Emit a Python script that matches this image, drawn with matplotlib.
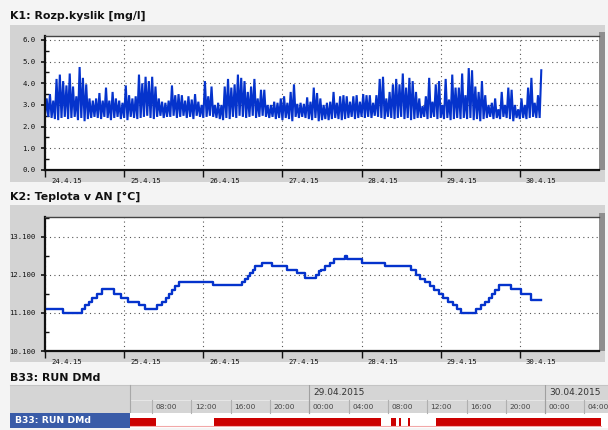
import numpy as np
import matplotlib
matplotlib.use("Agg")
import matplotlib.pyplot as plt
from matplotlib.patches import Rectangle
from matplotlib.transforms import ScaledTranslation

# ---------------- data ----------------
# K1: dissolved oxygen, hourly spike maxima and band minima (hours from 24.4.15 00:00)
o2_peak = [3.3,3.5,3.2,4.2,4.4,4.1,3.9,4.45,3.85,3.4,4.75,4.25,3.95,3.3,3.2,3.3,3.55,3.2,3.8,3.2,
           3.6,3.3,3.2,3.1,3.9,3.45,3.3,3.4,4.4,4.0,4.3,4.1,4.3,3.85,3.3,3.15,3.1,3.2,
           3.9,3.45,3.5,3.45,3.2,3.4,3.25,3.5,3.15,3.0,4.1,3.4,3.85,3.0,3.1,3.0,3.85,4.2,3.8,3.95,
           4.4,4.25,4.1,3.6,3.85,4.2,3.3,3.7,3.7,3.0,3.0,3.15,3.1,3.3,3.4,3.1,3.6,3.95,
           3.05,3.1,3.05,3.35,3.15,3.8,3.55,3.3,3.0,3.1,3.15,3.6,3.1,3.4,3.45,3.4,3.15,3.4,3.45,3.15,
           3.5,3.45,3.45,3.1,3.45,4.2,4.3,3.3,3.6,3.95,4.2,3.95,4.45,3.8,4.25,4.1,3.6,3.3,
           2.95,3.4,4.25,3.15,3.95,4.1,3.0,4.2,3.25,4.4,3.8,3.8,4.45,3.45,4.7,4.6,3.85,3.6,4.1,3.45,
           3.0,3.1,3.3,2.8,3.6,3.0,3.8,3.7,3.0,2.8,3.3,3.0,3.8,4.25,3.1,3.45,4.6]
o2_low = [2.5,2.45,2.4,2.35,2.3,2.4,2.45,2.35,2.4,2.45,2.3,2.4,2.25,2.35,2.4,2.45,2.4,2.35,2.45,2.4,
          2.3,2.4,2.45,2.35,2.4,2.3,2.45,2.4,2.35,2.4,2.45,2.5,2.4,2.35,2.45,2.5,2.4,2.45,
          2.45,2.5,2.4,2.45,2.5,2.4,2.45,2.35,2.5,2.45,2.4,2.45,2.5,2.45,2.4,2.35,2.3,2.4,2.35,2.45,
          2.4,2.5,2.45,2.4,2.45,2.5,2.4,2.45,2.5,2.45,2.4,2.45,2.35,2.4,2.3,2.4,2.35,2.25,
          2.45,2.4,2.45,2.4,2.35,2.3,2.4,2.25,2.3,2.35,2.3,2.35,2.4,2.35,2.3,2.35,2.4,2.45,2.35,2.4,
          2.45,2.4,2.45,2.4,2.5,2.45,2.4,2.35,2.45,2.4,2.35,2.4,2.45,2.35,2.4,2.3,2.35,2.4,
          2.4,2.45,2.35,2.4,2.45,2.35,2.4,2.35,2.4,2.3,2.35,2.4,2.35,2.4,2.35,2.4,2.3,2.35,2.25,2.35,
          2.4,2.45,2.35,2.4,2.35,2.45,2.4,2.35,2.25,2.4,2.35,2.4,2.35,2.4,2.45,2.4,2.4]

# K2: temperature steps (hour from 24.4.15 00:00, value)
temp_t = [0, 5.4, 11.1, 12.2, 13.2, 14.2, 15.7, 17.2, 20.8, 23.0, 25.3, 28.4, 30.4, 33.9, 35.5,
          36.7, 37.5, 38.5, 39.5, 40.5, 51.0, 59.8, 60.8, 61.5, 62.3, 63.1, 63.8, 65.7, 68.9,
          73.3, 76.5, 78.8, 82.1, 83.1, 83.8, 84.8, 86.4, 87.6, 90.9, 91.7, 96.0, 103.0,
          111.0, 112.4, 113.8, 115.2, 116.6, 118.0, 119.4, 120.8, 122.2, 123.6, 125.0, 126.2, 130.7,
          132.2, 133.4, 134.6, 135.6, 136.6, 137.6, 141.3, 144.4, 147.4, 150.5]
temp_v = [11.2, 11.1, 11.2, 11.3, 11.4, 11.5, 11.6, 11.72, 11.6, 11.5, 11.4, 11.3, 11.2, 11.3, 11.4,
          11.5, 11.6, 11.7, 11.8, 11.9, 11.83, 11.9, 11.98, 12.07, 12.16, 12.24, 12.33, 12.42, 12.33,
          12.22, 12.14, 12.02, 12.1, 12.2, 12.24, 12.33, 12.42, 12.51, 12.6, 12.51, 12.42, 12.33,
          12.22, 12.1, 12.0, 11.9, 11.8, 11.7, 11.6, 11.5, 11.4, 11.3, 11.2, 11.1, 11.2,
          11.3, 11.4, 11.5, 11.6, 11.7, 11.83, 11.72, 11.6, 11.45, 11.45]

day_labels = ["24.4.15", "25.4.15", "26.4.15", "27.4.15", "28.4.15", "29.4.15", "30.4.15"]

# B33: RUN DMd on/off (hours from 28.4.2015 00:00)
run_on = [5.0, 14.3, 32.3, 33.1, 34.0, 36.9]
run_off = [8.4, 31.3, 32.8, 33.3, 34.2, 53.7]
hour_labels = ["08:00", "12:00", "16:00", "20:00", "00:00", "04:00", "08:00", "12:00",
               "16:00", "20:00", "00:00", "04:00"]
hour_ticks = [8, 12, 16, 20, 24, 28, 32, 36, 40, 44, 48, 52]
date_labels = ["29.04.2015", "30.04.2015"]
date_ticks = [24, 48]

# ---------------- layout ----------------
W, H = 608, 430
fig = plt.figure(figsize=(W / 100, H / 100), dpi=100)
BG = "#f4f4f4"
PANEL = "#d3d3d3"
BLUE = "#0533cc"
fig.patch.set_facecolor(BG)

def px_axes(x0, y0, x1, y1, **kw):
    return fig.add_axes([x0 / W, 1 - y1 / H, (x1 - x0) / W, (y1 - y0) / H], **kw)

bg = px_axes(0, 0, W, H, zorder=-10)
bg.set_xlim(0, W); bg.set_ylim(H, 0); bg.axis("off")

TFONT = dict(fontsize=7.9, fontweight="bold", family="DejaVu Sans", color="#111")
MONO = dict(family="DejaVu Sans Mono", size=5.2)

# panel boxes
for (y0, y1) in [(25, 182), (205, 362)]:
    bg.add_patch(Rectangle((10, y0), 595, y1 - y0, color=PANEL, lw=0))
for (y0, y1) in [(36, 170), (217, 351)]:
    bg.add_patch(Rectangle((599, y0 - 4), 6, y1 - y0 + 4, color="#8e8e8e", lw=0))
bg.text(10, 16, "K1: Rozp.kyslik [mg/l]", va="center", ha="left", **TFONT)
bg.text(10, 197, "K2: Teplota v AN [°C]", va="center", ha="left", **TFONT)
bg.text(10, 378, "B33: RUN DMd", va="center", ha="left", **TFONT)

def style_axes(ax, yticks, ylabels, yminor, ylim):
    ax.set_xlim(0, 168)
    ax.set_ylim(*ylim)
    ax.set_xticks([24 * i for i in range(len(day_labels))])
    ax.set_xticklabels(day_labels, **MONO)
    ax.set_yticks(yticks)
    ax.set_yticklabels(ylabels, **MONO)
    ax.set_yticks(yminor, minor=True)
    ax.tick_params(axis="x", direction="out", length=5, width=1, pad=1, colors="#111")
    ax.tick_params(axis="y", which="major", direction="out", length=3, width=1.2, pad=4, colors="#111")
    ax.tick_params(axis="y", which="minor", direction="in", length=3, width=1.0, colors="#111")
    for lab in ax.get_xticklabels():
        lab.set_ha("left")
        lab.set_transform(lab.get_transform() + ScaledTranslation(6 / 100, 0, fig.dpi_scale_trans))
    ax.grid(True, which="major", color="#555", lw=0.8, ls=(0, (1, 3)))
    ax.set_axisbelow(True)
    for s in ["left", "bottom"]:
        ax.spines[s].set_linewidth(1.6)
        ax.spines[s].set_color("#111")
    ax.spines["top"].set_linewidth(1.0)
    ax.spines["top"].set_color("#444")
    ax.spines["right"].set_visible(False)

# ---- K1 ----
ax1 = px_axes(45, 36, 599, 170)
n = len(o2_peak)
t_low = np.arange(n, dtype=float)
xs = np.empty(2 * n); ys = np.empty(2 * n)
xs[0::2] = t_low; xs[1::2] = t_low + 0.5
ys[0::2] = o2_low; ys[1::2] = o2_peak
ax1.plot(xs, ys, color=BLUE, lw=1.5, solid_joinstyle="miter")
style_axes(ax1, [0, 1, 2, 3, 4, 5, 6], ["%.1f" % v for v in range(7)],
           [0.5, 1.5, 2.5, 3.5, 4.5, 5.5], (0, 6.18))

# ---- K2 ----
ax2 = px_axes(45, 217, 599, 351)
ax2.plot(temp_t, temp_v, drawstyle="steps-post", color=BLUE, lw=1.7)
yt = [10.1, 11.1, 12.1, 13.1]
style_axes(ax2, yt, ["%.3f" % v for v in yt], [10.6, 11.6, 12.6, 13.6], (10.1, 13.62))

# ---- B33 gantt ----
x0h, x1h = 5.75, 54.4
bg.add_patch(Rectangle((10, 385), 598, 28, color="#d5d5d5", lw=0))
bg.plot([10, 608], [385, 385], color="#c4c4c4", lw=0.8)
bg.plot([130, 608], [400, 400], color="#e6e6e6", lw=0.8)
bg.plot([130, 130], [385, 413], color="#a8a8a8", lw=0.8)
bg.add_patch(Rectangle((10, 413), 120, 15, color="#3a5ca8", lw=0))
bg.text(15, 420.5, "B33: RUN DMd", color="white", fontsize=6.7, fontweight="bold",
        va="center", ha="left", family="DejaVu Sans")

ax3 = px_axes(130, 385, 608, 428)
ax3.set_xlim(x0h, x1h)
ax3.set_ylim(428, 385)
ax3.axis("off")
ax3.axhspan(413, 428, color="white", lw=0)
for ht, hl in zip(hour_ticks, hour_labels):
    ax3.plot([ht, ht], [400, 413], color="#b0b0b0", lw=0.8)
    ax3.text(ht + 0.35, 406.8, hl, fontsize=5.3, color="#444", va="center", ha="left",
             family="DejaVu Sans")
for dt, dl in zip(date_ticks, date_labels):
    ax3.plot([dt, dt], [385, 413], color="#a0a0a0", lw=0.8)
    ax3.text(dt + 0.4, 392.5, dl, fontsize=6.5, color="#333", va="center", ha="left",
             family="DejaVu Sans")
ax3.plot([x0h, run_off[-1]], [425.8, 425.8], color="#f2a8a8", lw=0.8)
ax3.broken_barh([(a, b - a) for a, b in zip(run_on, run_off)], (417.5, 8),
                facecolors="#cc0000", lw=0)

fig.savefig("out.png", dpi=100, facecolor=fig.get_facecolor())
